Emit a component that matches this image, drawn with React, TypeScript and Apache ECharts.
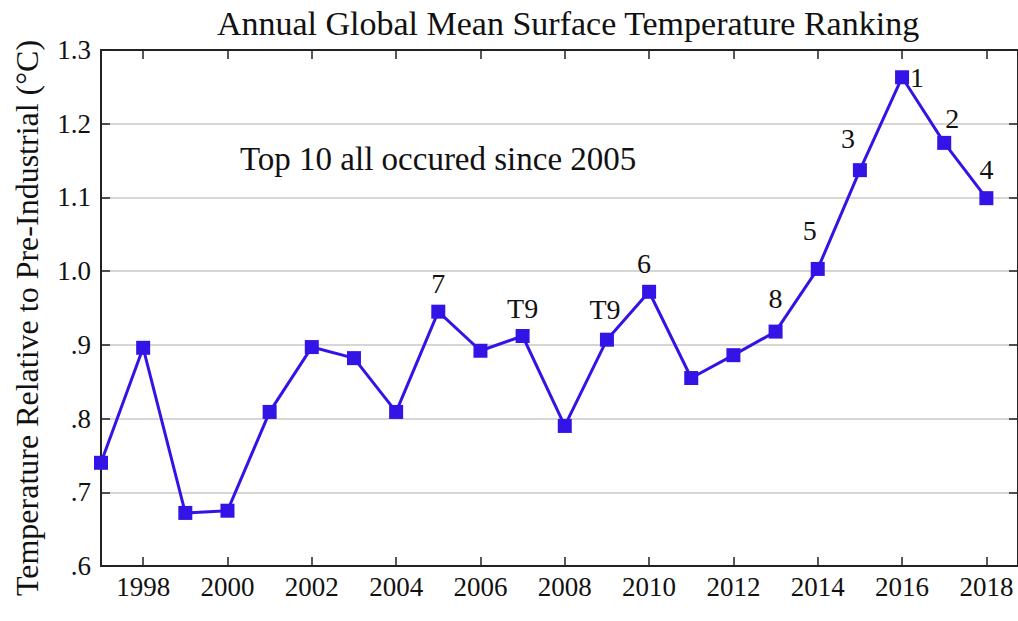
import React, { useEffect, useRef } from "react";
import * as echarts from "echarts";

const years = [1997, 1998, 1999, 2000, 2001, 2002, 2003, 2004, 2005, 2006, 2007, 2008, 2009, 2010, 2011, 2012, 2013, 2014, 2015, 2016, 2017, 2018];
const temps = [0.740, 0.896, 0.672, 0.675, 0.809, 0.897, 0.882, 0.809, 0.945, 0.892, 0.912, 0.790, 0.907, 0.972, 0.855, 0.886, 0.918, 1.003, 1.137, 1.263, 1.174, 1.099];
const ranks = ["", "", "", "", "", "", "", "", "7", "", "T9", "", "T9", "6", "", "", "8", "5", "3", "1", "2", "4"];
const xTicks = [1998, 2000, 2002, 2004, 2006, 2008, 2010, 2012, 2014, 2016, 2018];
const yTickLabels: Record<string, string> = { "0.6": ".6", "0.7": ".7", "0.8": ".8", "0.9": ".9", "1": "1.0", "1.1": "1.1", "1.2": "1.2", "1.3": "1.3" };

const FONT = "Liberation Serif";

export default function App() {
  const ref = useRef<HTMLDivElement>(null);
  useEffect(() => {
    if (!ref.current) return;
    const chart = echarts.init(ref.current, null, { renderer: "svg" });
    const offsetByYear: Record<number, [number, number]> = {
      2005: [0, 7],
      2007: [0, 7],
      2009: [-2, 5],
      2010: [-5, 7],
      2013: [0, 2],
      2014: [-8, -3],
      2015: [-12, 3],
      2017: [8, 11],
      2018: [0, 6],
    };
    const data = years.map((y, i) => {
      const r = ranks[i];
      const d: any = { value: [y, temps[i]] };
      if (r) {
        d.label =
          y === 2016
            ? { show: true, formatter: r, position: "right", distance: 1, offset: [0, 0] }
            : { show: true, formatter: r, position: "top", distance: 14, offset: offsetByYear[y] || [0, 0] };
      }
      return d;
    });
    const axisLineStyle = { color: "#222", width: 2 };
    chart.setOption({
      animation: false,
      backgroundColor: "#fff",
      textStyle: { fontFamily: FONT },
      title: {
        text: "Annual Global Mean Surface Temperature Ranking",
        left: 563,
        textAlign: "center",
        top: 1,
        textStyle: { fontFamily: FONT, fontSize: 34, fontWeight: "normal", color: "#111" },
      },
      grid: { left: 101, right: 0, top: 50, bottom: 55 },
      xAxis: [
        {
          type: "value",
          min: 1997,
          max: 2018.75,
          position: "bottom",
          axisLine: { show: true, lineStyle: axisLineStyle },
          axisTick: { show: true, inside: true, length: 9, customValues: xTicks, lineStyle: { color: "#222", width: 1.5 } },
          axisLabel: {
            show: true,
            customValues: xTicks,
            formatter: (v: number) => String(v),
            fontFamily: FONT,
            fontSize: 27,
            color: "#111",
            margin: 7,
          },
          splitLine: { show: false },
        },
        {
          type: "value",
          min: 1997,
          max: 2018.75,
          position: "top",
          axisLine: { show: true, lineStyle: axisLineStyle },
          axisTick: { show: true, inside: true, length: 9, customValues: xTicks, lineStyle: { color: "#222", width: 1.5 } },
          axisLabel: { show: false },
          splitLine: { show: false },
        },
      ],
      yAxis: [
        {
          type: "value",
          min: 0.6,
          max: 1.3,
          interval: 0.1,
          position: "left",
          name: "Temperature Relative to Pre-Industrial (°C)",
          nameLocation: "middle",
          nameGap: 58,
          nameRotate: 90,
          nameTextStyle: { fontFamily: FONT, fontSize: 32, color: "#111", padding: [0, 20, 0, 0] },
          axisLine: { show: true, lineStyle: axisLineStyle },
          axisTick: { show: true, inside: true, length: 9, lineStyle: { color: "#222", width: 1.5 } },
          axisLabel: {
            fontFamily: FONT,
            fontSize: 27,
            color: "#111",
            margin: 10,
            formatter: (v: number) => yTickLabels[String(Math.round(v * 10) / 10)] ?? String(v),
          },
          splitLine: { show: true, lineStyle: { color: "#c8c8c8", width: 1.5 } },
        },
        {
          type: "value",
          min: 0.6,
          max: 1.3,
          interval: 0.1,
          position: "right",
          axisLine: { show: true, lineStyle: axisLineStyle },
          axisTick: { show: true, inside: true, length: 9, lineStyle: { color: "#222", width: 1.5 } },
          axisLabel: { show: false },
          splitLine: { show: false },
        },
      ],
      graphic: [
        {
          type: "text",
          left: 240,
          top: 142,
          style: { text: "Top 10 all occured since 2005", fontFamily: FONT, fontSize: 33, fill: "#111" },
        },
      ],
      series: [
        {
          type: "line",
          data,
          symbol: "rect",
          symbolSize: 14,
          lineStyle: { color: "#3314e6", width: 3 },
          itemStyle: { color: "#3314e6" },
          label: { fontFamily: FONT, fontSize: 28, color: "#111" },
          z: 5,
        },
      ],
    });
    return () => chart.dispose();
  }, []);
  return <div ref={ref} style={{ width: 1018, height: 621, position: "absolute", left: 0, top: 0 }} />;
}
